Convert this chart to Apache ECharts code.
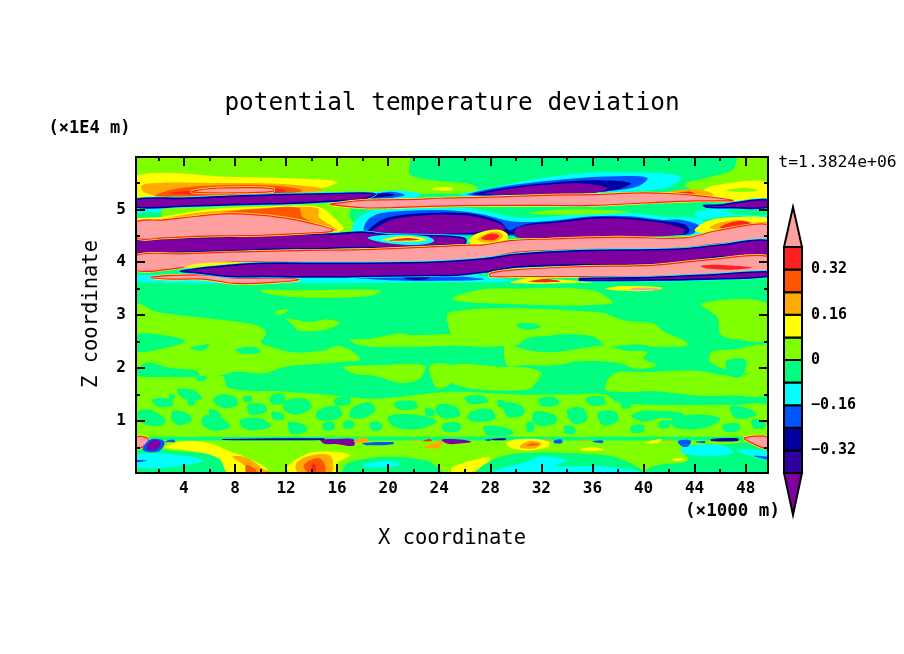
<!DOCTYPE html>
<html><head><meta charset="utf-8">
<style>html,body{margin:0;padding:0;background:#fff}#c{width:904px;height:654px}</style>
<script src="https://cdn.jsdelivr.net/npm/echarts@6/dist/echarts.min.js"></script>
</head><body><div id="c"></div>
<script>
// temperature-deviation classes (lower bound .. upper bound) and their colours
const classEdges=[-0.4,-0.32,-0.24,-0.16,-0.08,0,0.08,0.16,0.24,0.32,0.4];
const classColors=['#7F00A0','#3300A0','#0000A0','#0055FF','#00FFFF','#00FF80','#80FF00','#FFFF00','#FFAA00','#FF5500','#FF2020','#FFA0A0'];
const PUR=0,IND=1,DKB=2,BLU=3,CYN=4,SPR=5,CHA=6,YEL=7,ORG=8,RDO=9,RED=10,PNK=11;
const xTicks=[4,8,12,16,20,24,28,32,36,40,44,48];
const xMinor=[2,6,10,14,18,22,26,30,34,38,42,46];
const zTicks=[1,2,3,4,5];
const zMinor=[0.5,1.5,2.5,3.5,4.5,5.5];
const barTicks=[-0.32,-0.16,0,0.16,0.32];
// contour regions, as x (km), z (10^4 m) vertex lists
const field=[.25,.015,49.75,.015,49.75,5.99,.25,5.99];
const topChar=[.25,5.99,21.6,5.99,21.7,5.67,23.5,5.55,26.5,5.47,27,5.33,24,5.3,21,5.28,18,5.33,15,5.32,.25,5.15];
const topYel=[.25,5.64,8,5.61,12,5.59,15.5,5.55,16,5.5,14,5.36,10,5.25,.25,5.15];
const topOrg=[.9,5.32,.7,5.45,2,5.5,6,5.5,11,5.49,14,5.43,14.9,5.37,13,5.3,8,5.27,3,5.22];
const topRdo=[1.8,5.25,3,5.37,6,5.45,10,5.46,12.5,5.41,13.3,5.35,12,5.3,7,5.27];
const topRed=[3,5.3,5,5.37,8,5.42,10.5,5.42,12,5.36,11.5,5.31,7,5.28];
const topPnk=[4.6,5.33,6,5.39,9,5.41,11,5.39,11,5.34,8,5.31];
const smallYel=[23.4,5.38,24,5.42,25,5.41,25,5.36,24,5.36];
const leftCyan=[.25,5.04,2,5.05,2.2,4.95,1,4.95,.25,4.92];
const midChar=[2.4,5.06,15,5.12,17,5.08,17,4.85,17.8,4.6,16,4.55,10,4.75,2.5,4.82];
const midYel=[.25,4.78,.25,4.83,2,4.85,4,4.93,6,5,9,5.04,14,5.07,15,5,15.5,4.9,16.5,4.65,16.2,4.58,14,4.6,8,4.75,3,4.75];
const midOrg=[2,4.79,4,4.9,6,4.96,8,4.99,12,5.04,14.5,5.02,14.6,4.85,16,4.62,15.8,4.59,13,4.7,6,4.75];
const midRdo=[7,4.93,10,5.01,13,5.03,13.3,4.85,15.5,4.62,15,4.6,12,4.8];
const pinkBig=[.25,4.76,2.4,4.8,5,4.87,7.6,4.92,10.2,4.886,12.3,4.82,13.9,4.74,15.7,4.62,15.5,4.58,12.9,4.54,10.2,4.51,7.6,4.5,5,4.49,2.4,4.46,.25,4.46];
const cyanWest=[17.3,4.58,17.5,4.8,19,5,21,5.04,24,5.02,26,5.03,28,4.95,30,4.85,32,4.85,36,4.93,39,4.93,42,4.85,44,4.85,45,4.7,44.4,4.52,29.8,4.5];
const blueWest=[18.2,4.58,18.4,4.8,19.5,4.93,22,4.98,25,4.98,27.5,4.9,29.5,4.78,31,4.76,33,4.79,36,4.87,39,4.87,41.5,4.8,43,4.8,44.4,4.68,43.6,4.52,29.4,4.5];
const dkbWest=[18.5,4.58,19,4.73,20.2,4.86,23,4.93,26,4.93,27.5,4.87,28.8,4.76,29.5,4.6,30,4.65,31,4.73,33,4.77,36,4.85,38.5,4.85,41,4.79,43.2,4.72,43.6,4.6,43.2,4.52];
const purBlob1=[18.8,4.6,19.5,4.72,20.5,4.82,23,4.89,26,4.89,27,4.85,28.5,4.75,29.2,4.65,29,4.6,28,4.6,26,4.55,23,4.54,20,4.55,18.8,4.57];
const purBlob2=[30,4.63,31,4.7,33,4.74,36,4.82,38.5,4.82,41,4.76,42.5,4.68,43.2,4.62,43,4.53,40,4.48,36,4.465,32,4.46,30,4.475];
const midChar2=[31,4.92,33,4.99,37,4.99,39,4.95,35,4.9];
const rightCyan=[44,4.95,47,5.02,49.75,5.05,49.75,4.85,47,4.88,44.5,4.82];
const rightSpr=[46.5,4.99,49.75,5.02,49.75,4.9,47,4.92];
const rYel=[44,4.6,45,4.78,47,4.85,49.75,4.84,49.75,4.7,47,4.62,45,4.55];
const rOrg=[45.2,4.65,46,4.75,47.5,4.8,48.5,4.75,49.75,4.76,49.75,4.66,47,4.6];
const rRed=[46,4.65,46.8,4.75,47.8,4.78,48.5,4.72,47.5,4.62];
const purple1=[.25,5.19,4,5.21,8,5.25,12,5.28,16,5.3,18,5.31,19,5.29,18,5.19,16,5.16,12,5.11,8,5.09,4,5.06,.25,5.04];
const cyan1=[15,5.17,20,5.35,22.5,5.3,22,5.2,18,5.16];
const blue1=[17,5.2,20,5.33,21.3,5.27,20,5.21];
const dkb1=[17.5,5.21,19.5,5.31,20.5,5.27,19,5.22];
const pink2=[15.5,5.1,18,5.17,20,5.18,22,5.19,24,5.21,26,5.22,28,5.23,32,5.265,36,5.28,40,5.31,42,5.3,44,5.265,46,5.21,47,5.17,47,5.16,44,5.16,40,5.12,36,5.075,32,5.075,28,5.075,24,5.06,20,5.03,18,5.03,15.5,5.09];
const purple1r=[44.7,5.075,46,5.08,47,5.12,49.75,5.18,49.75,5.04,47,5.03,45,5.04];
const neCyan=[25.6,5.28,28,5.4,31,5.55,35,5.68,39,5.7,42.9,5.62,42,5.42,38,5.33,32,5.27,27,5.24];
const neBlue=[26.2,5.27,29,5.43,33,5.55,37,5.62,40.3,5.6,39.5,5.43,37,5.34,31,5.28];
const neDkb=[26.6,5.28,29.5,5.42,33,5.51,36,5.55,39,5.5,38,5.38,35,5.3,30,5.28];
const nePur=[27.5,5.29,30.1,5.41,32.7,5.47,35.3,5.49,37.2,5.4,36,5.31,32,5.29];
const neChar=[47.5,5.99,49.75,5.99,49.75,5.2,46,5.2,44,5.35,43.2,5.48,45,5.6,47,5.75];
const neChar2=[25,5.48,26.5,5.47,27,5.36,25.5,5.32];
const neYel=[44.5,5.3,45.5,5.45,49.75,5.52,49.75,5.18,46,5.18];
const neOrg=[41.5,5.3,43,5.37,44.5,5.37,45.5,5.27,44,5.23,42,5.27];
const neRed=[42.2,5.29,43.5,5.34,44,5.3,43.5,5.27];
const neTail=[44.5,5.19,46.3,5.2,46.3,5.16,44.5,5.16];
const neSpr=[46.5,5.36,48,5.41,49,5.36,47.5,5.33];
const purple2=[.25,4.41,2,4.44,4,4.46,6,4.47,8,4.49,10,4.51,12,4.52,14,4.53,16,4.54,18,4.57,20,4.52,24,4.5,26,4.45,26,4.35,24,4.32,22,4.28,20,4.27,18,4.28,16,4.27,14,4.25,12,4.25,10,4.24,8,4.22,6,4.2,4,4.19,2,4.16,.25,4.15];
const isleCyan=[18.4,4.46,20,4.52,23,4.49,23.6,4.4,22.5,4.33,20,4.36];
const isleYel=[19.5,4.42,21,4.49,22.8,4.46,23,4.41,21,4.39];
const isleRed=[20,4.41,21.5,4.46,22.5,4.43,21.5,4.41];
const blobYel=[26.3,4.42,27,4.55,28.5,4.62,29.3,4.55,29.3,4.42,28,4.33,26.5,4.35];
const blobOrg=[27,4.43,27.5,4.52,28.5,4.58,29,4.5,28.5,4.4,27.5,4.38];
const blobRed=[27.3,4.45,28,4.54,28.7,4.5,28.3,4.42];
const pink3=[.25,4.128,3.7,4.16,7.6,4.19,12.8,4.22,18,4.24,23.3,4.29,25.9,4.32,27.5,4.33,29.6,4.41,32.7,4.44,37.9,4.476,43.2,4.46,45.8,4.6,49.75,4.715,49.75,4.425,45.8,4.35,43.2,4.27,40.6,4.24,35.3,4.24,30.1,4.19,27.5,4.065,25,4.03,23.3,4,18,3.98,12.8,4,7.6,4,3.7,3.895,.25,3.844];
const yelPatch=[4,3.9,5,3.97,7,4,10,3.99,9,3.95,7,3.9];
const purple3=[3.7,3.83,5,3.876,7.6,3.94,10.2,3.98,15.5,3.98,23.3,4,27.5,4.065,30.1,4.15,35.3,4.22,40.6,4.235,43.2,4.255,45.8,4.32,49.75,4.41,49.75,4.13,45.8,4.1,43.2,4,40.6,3.96,35.3,3.95,30.1,3.91,27.5,3.81,25,3.75,23.3,3.75,18,3.73,15.5,3.72,10.2,3.73,7.6,3.73,5,3.8];
const pink4l=[1.4,3.71,3,3.75,5.5,3.76,8,3.7,12,3.7,13,3.67,11,3.62,8,3.6,5.5,3.68,3,3.68];
const pink4r=[28,3.79,30.1,3.86,35.3,3.92,40.6,3.94,45.8,4.065,49.75,4.11,49.75,3.81,45.8,3.78,40.6,3.73,35.3,3.73,30.1,3.73,28,3.73];
const purThin=[35,3.69,40,3.71,45,3.76,49.75,3.82,49.75,3.73,45,3.68,40,3.66,35,3.66];
const redStripR=[44.5,3.93,46,3.95,48.5,3.9,47,3.86,45,3.88];
const cyanLine=[.25,3.76,25,3.78,28,3.72,30,3.64,25,3.62,.25,3.62];
const blueLine=[17,3.72,21,3.74,25,3.74,27.5,3.68,25,3.65,20,3.66];
const dkbLine=[21,3.75,23.3,3.75,23,3.68,21.5,3.68];
const patchR=[29.6,3.61,31,3.7,33,3.68,36,3.62,33,3.6];
const redR=[31,3.63,32,3.68,33.2,3.66,33.5,3.63];
const patch2=[37,3.5,38.5,3.55,41.5,3.52,40.5,3.46,38.5,3.46];
const pinkSliver=[38.8,3.48,39.5,3.52,41.5,3.49,40,3.47];
// middle levels: chartreuse (0..0.08) patches on the spring-green field
const pch1=[10,3.47,13,3.47,19.4,3.47,18.5,3.36,14,3.33,11,3.38];
const pch2=[27,3.47,30,3.5,36,3.47,37.5,3.22,28,3.22,25,3.3];
const pchE=[44.5,3.22,49.75,3.22,49.75,2.55,47,2.55,46,2.65,45.8,2.95];
const l1=[.25,3.19,1.9,3.06,4.7,2.97,8.9,2.85,10.2,2.75,10.4,2.62,10,2.5,10.8,2.4,12.5,2.3,15,2.33,16,2.42,17.3,2.3,17.8,2.15,16.5,2.12,14.5,2.08,12,2.03,10.2,1.9,8.1,1.93,6.8,1.86,5,1.83,2.4,1.85,.25,1.82];
const l2=[12,2.93,14,2.87,15.2,2.92,16.2,2.85,15,2.72,13,2.71,12.5,2.82];
const l3=[11.3,3.08,12.2,3.1,11.7,3.02,11.2,3.02];
const bandC=[17,2.53,18.5,2.55,20.7,2.65,22,2.62,25.7,2.65,27.5,2.62,29,2.65,29,2.43,25,2.42,21,2.4,18,2.42];
const r1=[24.9,3.06,36.4,3.06,38.5,2.9,40.8,2.84,41.5,2.7,43.1,2.53,43.5,2.43,41,2.4,39.5,2.45,37,2.42,36.4,2.55,33,2.6,31,2.57,30,2.43,28,2.42,26,2.46,25,2.6];
const r1hole=[30,2.82,31,2.85,32,2.78,31,2.72,30.5,2.74];
const r1hole2=[30.3,2.43,32,2.5,33,2.63,36,2.6,36.4,2.5,34,2.42,32,2.33,30.5,2.33];
const r2=[29.2,2.42,31,2.33,33,2.3,37,2.42,38.5,2.33,40.3,2.3,40,2.18,41,2.05,39.5,1.98,38,2.1,35,2.13,33,2.05,30.5,2.05,29.3,2.05];
const r3=[25,2.05,29,2.02,31,2,32,1.9,31.5,1.7,31,1.6,28,1.58,25,1.72];
const l4=[16.5,2.02,19,2.05,22.8,2.05,22.5,1.8,21,1.72,19,1.85,17.5,1.88];
const l5=[23.3,2.05,25,2.06,25.7,1.9,24,1.6,23.4,1.8];
const lowR=[37.7,1.9,40,1.92,44,1.95,47,1.85,49.75,1.9,49.75,1.5,47,1.48,44,1.48,41,1.56,38,1.55,37,1.6];
const east2=[45.3,2.3,47,2.35,49.75,2.42,49.75,1.9,47,1.95,45.3,2.1];
const eastHole=[46.5,2.13,48,2.15,47.7,1.85,46.8,1.85];
const noiseBase=[.25,1.85,7,1.85,7.5,1.62,12,1.55,15,1.5,19,1.42,25,1.55,30,1.5,34,1.5,37,1.5,38,1.35,43,1.3,47,1.3,49.75,1.28,49.75,.7,.25,.7];
const sp1=[.25,2.63,3,2.6,4.1,2.5,2,2.35,.25,2.32];
const sp2=[1,2.1,3,2,5,1.95,5.2,1.85,3,1.83,.25,1.87];
const sp3=[8,2.35,9.5,2.4,10,2.3,8.5,2.27];
const sp4=[4.5,2.38,6,2.45,5.5,2.33];
const sp5=[1.5,1.4,2.8,1.42,3.2,1.3,2,1.26];
const sp6=[3.5,1.6,4.8,1.58,5.4,1.42,4.2,1.4,3.6,1.5];
const sp7=[6.8,1.5,8,1.45,8.2,1.3,7,1.25,6.3,1.38];
const sp8=[9,1.3,10.2,1.32,10.5,1.18,9.2,1.12];
const sp9=[.4,1.18,1.5,1.2,2.6,1,1.8,.9,.5,1];
const sp10=[3.2,1.2,4.4,1.12,4.6,1,3.6,.92,3,1.05];
const sp11=[5.6,1.1,7,1.05,7.6,.88,6.2,.82,5.4,.95];
const sp12=[8.4,1.02,10,1.05,10.8,.9,9.5,.82,8.6,.88];
const sp13=[12,1.38,13.5,1.42,14,1.25,12.8,1.12,11.8,1.22];
const sp14=[14.5,1.2,16,1.28,16.4,1.1,15.2,1,14.4,1.05];
const sp15=[12.2,.98,13.5,.92,13.6,.8,12.4,.76];
const sp16=[17.2,1.25,18.6,1.35,19,1.2,18,1.05,17,1.08];
const sp17=[20,1.08,22,1.12,23.8,1,22.5,.85,20.5,.88];
const sp18=[24,1.32,25.4,1.25,25.6,1.1,24.4,1.05,23.7,1.18];
const sp19=[26.5,1.18,28,1.22,28.4,1.05,27,.98,26.2,1.05];
const sp20=[29,1.35,30.5,1.28,30.6,1.12,29.4,1.08];
const sp21=[31.5,1.18,33,1.12,33.2,.98,32,.9,31.3,1];
const sp22=[34,1.2,35.2,1.25,35.6,1.02,34.5,.95];
const sp23=[36.4,1.15,37.8,1.18,38,1,36.8,.92];
const sp24=[27.5,.9,29.5,.85,29.8,.75,27.8,.73];
const sp25=[39,1.1,40.5,1.2,41.5,1.1,40,.98];
const sp26=[42,1,44,1.12,46,1.05,45,.88,42.8,.85];
const sp27=[46.8,1.28,48.4,1.22,48.8,1.1,47.2,1.05];
const sp28=[41,1.18,43,1.15,43.2,1.08,41.2,1.06];
const sp29=[26,1.45,27.4,1.48,27.8,1.36,26.4,1.32];
const sp30=[31.8,1.42,33,1.45,33.4,1.32,32,1.28];
const sp31=[35.5,1.44,36.8,1.46,37,1.32,35.8,1.3];
const sp32=[20.5,1.35,22,1.38,22.3,1.25,20.8,1.22];
const sp33=[10.8,1.48,11.8,1.5,11.9,1.35,10.9,1.32];
const sp34=[15.8,1.42,17,1.45,17,1.32,15.9,1.3];
const tiny1=[5,1.84,5.8,1.83,5.6,1.76,5.1,1.76];
const tiny2=[2.9,1.5,3.3,1.48,3.2,1.41,2.9,1.4];
const tiny3=[4.3,1.4,4.9,1.38,4.8,1.3,4.4,1.3];
const tiny4=[6,1.22,6.8,1.15,6.9,1.04,6.2,1.02];
const tiny5=[8.7,1.47,9.3,1.46,9.3,1.37,8.7,1.37];
const tiny6=[10.9,1.17,11.8,1.13,11.8,1.03,11,1.03];
const tiny7=[14.9,.95,15.7,.98,15.8,.85,15,.82];
const tiny8=[16.5,.98,17.2,1,17.3,.88,16.6,.86];
const tiny9=[18.6,.98,19.5,.95,19.4,.83,18.7,.83];
const tiny10=[22.9,1.25,23.6,1.2,23.6,1.1,23,1.1];
const tiny11=[24.3,.95,25.6,.96,25.6,.82,24.4,.8];
const tiny12=[28.6,1.4,29,1.38,29,1.26,28.6,1.28];
const tiny13=[30.9,.98,31.4,.95,31.4,.82,30.9,.8];
const tiny14=[33.8,.9,34.6,.88,34.6,.76,33.9,.76];
const tiny15=[38.3,1.38,39,1.36,39,1.26,38.3,1.24];
const tiny16=[39,.9,40,.92,40,.8,39.1,.78];
const tiny17=[41.2,.98,42,1,42,.88,41.3,.86];
const tiny18=[46.2,.92,47.4,.95,47.5,.82,46.4,.8];
const tiny19=[48.5,1.02,49.5,1,49.5,.88,48.6,.86];
const botChar=[.25,.015,49.75,.015,49.75,.68,.25,.68];
const botSprL=[.25,.5,3,.44,8,.3,8.5,.015,.25,.015];
const botCyanL=[.25,.36,4,.34,5.5,.24,3,.13,.25,.13];
const botBlueL=[.25,.26,1.1,.25,.25,.22];
const botYelL=[2.5,.5,4,.62,6,.58,7.5,.43,9,.3,10.5,.1,10.5,.015,7.5,.015,6.7,.3,4,.45];
const botOrgL=[7.8,.33,9,.3,10.3,.08,11,.015,9.8,.015,8.5,.2];
const botRdoL=[8.9,.17,9.6,.08,9.7,.015,8.9,.015];
const botYel2=[12,.1,13,.3,14.5,.42,17,.36,16,.2,15.8,.015,12.5,.015];
const botOrg2=[12.8,.2,14,.35,15.5,.33,15.5,.015,13,.015];
const botRdo2=[13.4,.17,14.5,.3,15,.2,15,.015,13.8,.015];
const botRed2=[14,.12,14.1,.2,14.4,.12,14.2,.03];
const botSpr2=[16.5,.015,16.8,.2,20,.32,23,.25,24,.1,24.2,.015];
const botCyan2=[18,.17,20,.24,21,.18,20,.13,18.5,.12];
const botYel3=[25,.015,25,.12,27,.28,28,.3,27.5,.12,26,.015];
const botSpr3=[27,.015,28.5,.3,31,.4,37,.35,39,.2,40,.015];
const botCyan3=[28.2,.015,29,.12,30.5,.2,32,.33,34,.25,33,.15,37,.14,40,.02];
const botSprE=[40,.015,41,.16,43.5,.25,43,.5,46,.55,49.75,.55,49.75,.015];
const botCyanE=[43,.4,43,.5,46,.55,47,.4,45,.33];
const botCyanF=[47.3,.45,48.5,.46,49.75,.42,49.75,.28,48.5,.33];
const botBlueF=[48.6,.34,49.75,.32,49.75,.27];
const botYelG=[42.2,.27,43,.3,43.2,.26,42.5,.24];
const strip=[.25,.7,49.75,.7,49.75,.63,.25,.63];
const cornerL=[.25,.69,1.1,.68,1.2,.6,.7,.5,.25,.49];
const duB=[.8,.45,1.3,.64,2.2,.65,2.5,.58,2,.42];
const duP=[1.1,.47,1.4,.62,2,.63,2.2,.57,1.8,.46];
const duB2=[2.5,.6,3,.65,3.3,.63,3.3,.6,2.8,.6];
const thinB=[7,.66,15,.67,15,.64,7,.64];
const duP2=[14.7,.64,16,.66,17.3,.65,17.3,.53,16,.56,15,.57];
const dotO=[17.3,.6,17.8,.68,18.4,.66,18.4,.6];
const lineB2=[18,.58,20.4,.6,20.4,.56,18.3,.54];
const dotO2=[21.7,.62,22.3,.65,22.4,.62];
const dotO3=[22.7,.62,23.3,.66,23.4,.62];
const orgB=[22.8,.5,24,.62,24.3,.62,24,.49];
const duP3=[24.2,.65,26,.64,26.5,.6,25,.56,24.5,.58];
const yelB=[29.3,.6,30.5,.66,32.5,.62,32.6,.52,30.8,.44,29.5,.5];
const orgC=[30.3,.5,31,.62,32,.58,31.5,.48];
const rdoC=[30.8,.53,31.3,.58,31.8,.55];
const yelD=[35,.46,36,.5,36.9,.46,36,.43];
const blDot1=[27.6,.64,28,.66,28,.62];
const blDot2=[28.1,.66,29.2,.67,29.2,.64,28.1,.64];
const orDot1=[32.2,.64,32.7,.66,32.7,.62];
const blDot3=[33,.63,33.6,.65,33.6,.58,33,.58];
const orDot2=[35,.62,35.5,.65,35.5,.61];
const blDot4=[36,.61,36.8,.63,36.8,.58];
const yeDot=[40,.58,41,.65,41.5,.65,41,.58];
const orDot3=[41.6,.62,42,.65,42.2,.62];
const blDot5=[42.7,.62,43.7,.63,43.5,.52,43,.52];
const blDot6=[44,.6,44.8,.62,44.8,.58];
const blDot7=[45.3,.66,47.4,.67,47.4,.62,45.3,.62];
const cornerR=[47.9,.68,49.75,.69,49.75,.48,48.5,.58];

const sharp=[field,botChar,strip];
const edged=[pinkBig,pink2,pink3,pink4l,pink4r,cornerL,cornerR,purple1,purple1r,purple2,purple3,purThin,topPnk];
const regions=[
[SPR,field],
[CHA,topChar],[YEL,topYel],[ORG,topOrg],[RDO,topRdo],[RED,topRed],[PNK,topPnk],[YEL,smallYel],
[CYN,leftCyan],[CHA,midChar],[YEL,midYel],[ORG,midOrg],[RDO,midRdo],
[CYN,cyanWest],[BLU,blueWest],[DKB,dkbWest],[CHA,midChar2],[CYN,rightCyan],[SPR,rightSpr],[YEL,rYel],[ORG,rOrg],[RED,rRed],
[PUR,purBlob1],[PUR,purBlob2],
[CYN,cyan1],[BLU,blue1],[DKB,dkb1],[PUR,purple1],
[CHA,neChar],[CHA,neChar2],[CYN,neCyan],[BLU,neBlue],[DKB,neDkb],[PUR,nePur],[YEL,neYel],[CHA,neSpr],[ORG,neOrg],[RED,neRed],[RED,neTail],
[PNK,pink2],[PUR,purple1r],
[PUR,purple2],[PNK,pinkBig],[CYN,isleCyan],[YEL,isleYel],[RED,isleRed],[YEL,blobYel],[ORG,blobOrg],[RED,blobRed],
[CYN,cyanLine],[BLU,blueLine],[DKB,dkbLine],[PNK,pink4l],[YEL,patchR],[RED,redR],[YEL,patch2],[PNK,pinkSliver],
[PNK,pink3],[YEL,yelPatch],[PUR,purple3],[PNK,pink4r],[PUR,purThin],[RED,redStripR],
[CHA,pch1],[CHA,pch2],[CHA,pchE],[CHA,l1],[CHA,l2],[CHA,l3],[CHA,bandC],[CHA,r1],[SPR,r1hole],[SPR,r1hole2],[CHA,r2],[CHA,r3],[CHA,l4],[CHA,l5],[CHA,lowR],[CHA,east2],[SPR,eastHole],[CHA,noiseBase],
[SPR,sp1],[SPR,sp2],[SPR,sp3],[SPR,sp4],[SPR,sp5],[SPR,sp6],[SPR,sp7],[SPR,sp8],[SPR,sp9],[SPR,sp10],[SPR,sp11],[SPR,sp12],[SPR,sp13],[SPR,sp14],[SPR,sp15],[SPR,sp16],[SPR,sp17],[SPR,sp18],[SPR,sp19],[SPR,sp20],[SPR,sp21],[SPR,sp22],[SPR,sp23],[SPR,sp24],[SPR,sp25],[SPR,sp26],[SPR,sp27],[SPR,sp28],[SPR,sp29],[SPR,sp30],[SPR,sp31],[SPR,sp32],[SPR,sp33],[SPR,sp34],
[SPR,tiny1],[SPR,tiny2],[SPR,tiny3],[SPR,tiny4],[SPR,tiny5],[SPR,tiny6],[SPR,tiny7],[SPR,tiny8],[SPR,tiny9],[SPR,tiny10],[SPR,tiny11],[SPR,tiny12],[SPR,tiny13],[SPR,tiny14],[SPR,tiny15],[SPR,tiny16],[SPR,tiny17],[SPR,tiny18],[SPR,tiny19],
[CHA,botChar],[SPR,botSprL],[CYN,botCyanL],[BLU,botBlueL],[YEL,botYelL],[ORG,botOrgL],[RDO,botRdoL],[YEL,botYel2],[ORG,botOrg2],[RDO,botRdo2],[RED,botRed2],[SPR,botSpr2],[CYN,botCyan2],[YEL,botYel3],[SPR,botSpr3],[CYN,botCyan3],[SPR,botSprE],[CYN,botCyanE],[CYN,botCyanF],[BLU,botBlueF],[YEL,botYelG],
[SPR,strip],[PNK,cornerL],[BLU,duB],[PUR,duP],[BLU,duB2],[DKB,thinB],[PUR,duP2],[ORG,dotO],[BLU,lineB2],[ORG,dotO2],[RED,dotO3],[ORG,orgB],[PUR,duP3],[YEL,yelB],[ORG,orgC],[RDO,rdoC],[YEL,yelD],[BLU,blDot1],[DKB,blDot2],[ORG,orDot1],[BLU,blDot3],[ORG,orDot2],[BLU,blDot4],[YEL,yeDot],[ORG,orDot3],[BLU,blDot5],[BLU,blDot6],[DKB,blDot7],[PNK,cornerR]
];

const FONT='DejaVu Sans Mono';
const chart=echarts.init(document.getElementById('c'),null,{renderer:'canvas'});
const halo={};
halo[PNK]=[['#FFFF00',2.6],['#FF2020',1.2]];
halo[PUR]=[['#00FFFF',3],['#0000A0',1.6]];
function tickAxis(type,grid,pos,min,max,vals,len,extra){
  return Object.assign({type:'value',gridIndex:grid,position:pos,min,max,z:6,scale:true,
    axisLine:{show:true,onZero:false,lineStyle:{color:'#000',width:2}},
    splitLine:{show:false},minorTick:{show:false},
    axisTick:{show:true,inside:true,length:len,customValues:vals,lineStyle:{color:'#000',width:2}},
    axisLabel:{show:false}},extra||{});
}
const lab=(m,vals)=>({axisLabel:{show:true,margin:m,customValues:vals,color:'#000',fontFamily:FONT,fontSize:16,fontWeight:'bold',hideOverlap:false,showMinLabel:true,showMaxLabel:true}});
const rect={left:136,top:157,width:632,height:316};
const barRegions=classColors.map((c,i)=>i);
const TIP_HI=0.5416,TIP_LO=-0.5487;
const option={
  animation:false,backgroundColor:'#fff',
  grid:[Object.assign({},rect),Object.assign({},rect),{left:784,top:205,width:18,height:312}],
  xAxis:[
    tickAxis('x',0,'bottom',.25,49.75,xTicks,9,lab(8,xTicks)),
    tickAxis('x',0,'top',.25,49.75,xTicks,9),
    tickAxis('x',1,'bottom',.25,49.75,xMinor,4),
    tickAxis('x',1,'top',.25,49.75,xMinor,4),
    {type:'value',gridIndex:2,min:0,max:1,show:false}
  ],
  yAxis:[
    tickAxis('y',0,'left',.015,5.99,zTicks,9,lab(10,zTicks)),
    tickAxis('y',0,'right',.015,5.99,zTicks,9),
    tickAxis('y',1,'left',.015,5.99,zMinor,4),
    tickAxis('y',1,'right',.015,5.99,zMinor,4),
    {type:'value',gridIndex:2,position:'right',min:-0.5558,max:0.5487,z:6,scale:true,
      axisLine:{show:false},axisTick:{show:false},splitLine:{show:false},
      axisLabel:{show:true,margin:9,customValues:barTicks,color:'#000',fontFamily:FONT,fontSize:15,fontWeight:'bold',
        formatter:v=>(Math.abs(v)<1e-9?'0':String(v).replace('-','\u2212'))}}
  ],
  series:[
    {type:'custom',xAxisIndex:0,yAxisIndex:0,clip:true,silent:true,z:2,
     data:regions.map((r,i)=>[i]),encode:{x:[],y:[]},
     renderItem(params,api){
       const r=regions[api.value(0)],pts=[];
       for(let k=0;k<r[1].length;k+=2)pts.push(api.coord([r[1][k],r[1][k+1]]));
       const col=classColors[r[0]];
       const smooth=sharp.includes(r[1])?0:0.35;
       const kids=[];
       if(edged.includes(r[1]))halo[r[0]].forEach(h=>kids.push({type:'polygon',shape:{points:pts,smooth},style:{fill:col,stroke:h[0],lineWidth:h[1]}}));
       else kids.push({type:'polygon',shape:{points:pts,smooth},style:{fill:col}});
       return {type:'group',children:kids};
     }},
    {type:'custom',xAxisIndex:4,yAxisIndex:4,clip:false,silent:true,z:3,
     data:barRegions.map(i=>[i]),encode:{x:[],y:[]},
     renderItem(params,api){
       const i=api.value(0);let pts;
       if(i===0)pts=[[0,classEdges[0]],[1,classEdges[0]],[.5,TIP_LO]];
       else if(i===classColors.length-1)pts=[[0,classEdges[10]],[1,classEdges[10]],[.5,TIP_HI]];
       else pts=[[0,classEdges[i-1]],[1,classEdges[i-1]],[1,classEdges[i]],[0,classEdges[i]]];
       return {type:'polygon',shape:{points:pts.map(p=>api.coord(p))},style:{fill:classColors[i],stroke:'#000',lineWidth:2}};
     }}
  ],
  graphic:[
    {type:'text',x:452,y:104,style:{text:'potential temperature deviation',font:'24.4px "'+FONT+'"',fill:'#000',textAlign:'center',textVerticalAlign:'middle'}},
    {type:'text',x:452,y:539,style:{text:'X coordinate',font:'20.5px "'+FONT+'"',fill:'#000',textAlign:'center',textVerticalAlign:'middle'}},
    {type:'text',x:92,y:314,rotation:-Math.PI/2+Math.PI,style:{text:'Z coordinate',font:'20.5px "'+FONT+'"',fill:'#000',textAlign:'center',textVerticalAlign:'middle'}},
    {type:'text',x:89.5,y:129,style:{text:'(\u00d71E4 m)',font:'bold 17px "'+FONT+'"',fill:'#000',textAlign:'center',textVerticalAlign:'middle'}},
    {type:'text',x:732.5,y:511,style:{text:'(\u00d71000 m)',font:'bold 17.5px "'+FONT+'"',fill:'#000',textAlign:'center',textVerticalAlign:'middle'}},
    {type:'text',x:837.5,y:163,style:{text:'t=1.3824e+06',font:'16.4px "'+FONT+'"',fill:'#000',textAlign:'center',textVerticalAlign:'middle'}}
  ]
};
chart.setOption(option);
</script></body></html>
